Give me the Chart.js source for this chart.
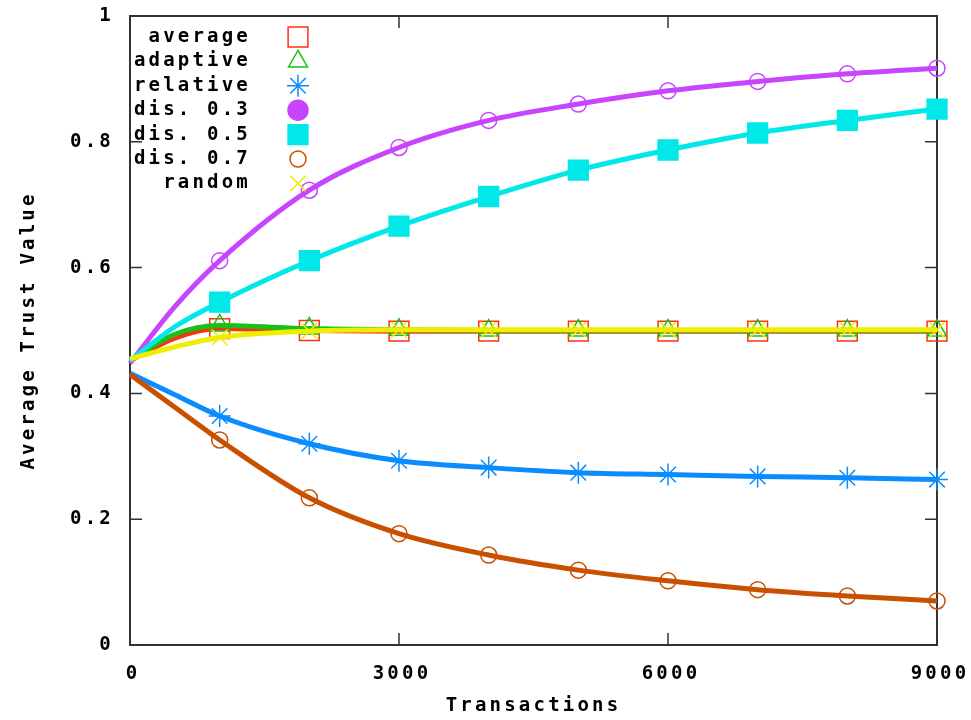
<!DOCTYPE html>
<html>
<head>
<meta charset="utf-8">
<script src="https://cdn.jsdelivr.net/npm/chart.js@4/dist/chart.umd.min.js"></script>
<style>
  html, body { margin: 0; padding: 0; background: #fff; }
  #wrap { width: 971px; height: 720px; position: relative; }
</style>
</head>
<body>
<div id="wrap"><canvas id="grafico"></canvas></div>
<script>
// valores (transacoes x confianca media)
const transactions = [0, 500, 1000, 2000, 3000, 4000, 5000, 6000, 7000, 8000, 9000];
const seriesNames = ['average', 'adaptive', 'relative', 'dis. 0.3', 'dis. 0.5', 'dis. 0.7', 'random'];

const averageVals  = [0.452, 0.488, 0.503, 0.500, 0.499, 0.499, 0.499, 0.499, 0.499, 0.499, 0.499];
const adaptiveVals = [0.452, 0.494, 0.508, 0.503, 0.501, 0.500, 0.500, 0.500, 0.500, 0.500, 0.500];
const relativeVals = [0.432, 0.398, 0.364, 0.320, 0.293, 0.282, 0.274, 0.271, 0.268, 0.266, 0.263];
const dis03Vals    = [0.448, 0.538, 0.611, 0.723, 0.791, 0.834, 0.860, 0.881, 0.896, 0.908, 0.917];
const dis05Vals    = [0.452, 0.506, 0.545, 0.611, 0.666, 0.713, 0.755, 0.787, 0.814, 0.834, 0.852];
const dis07Vals    = [0.430, 0.378, 0.326, 0.234, 0.177, 0.143, 0.119, 0.102, 0.088, 0.078, 0.070];
const randomVals   = [0.455, 0.474, 0.489, 0.499, 0.501, 0.501, 0.501, 0.501, 0.501, 0.501, 0.501];

const allVals = [averageVals, adaptiveVals, relativeVals, dis03Vals, dis05Vals, dis07Vals, randomVals];

const FONT = "'DejaVu Sans Mono', monospace";
const ESPACO = '3.2px';

// estilos dos marcadores (estilo gnuplot)
const estilos = [
  { color: '#ff3010', point: 'rect',     r: 14, fill: false, legendFill: false },
  { color: '#18c018', point: 'triangle', r: 11, fill: false, legendFill: false },
  { color: '#0a8cff', point: 'star',     r: 11, fill: false, legendFill: false },
  { color: '#c844ff', point: 'circle',   r: 8,  fill: false, legendFill: true },
  { color: '#00e8e8', point: 'rect',     r: 14, fill: true,  legendFill: true },
  { color: '#c85000', point: 'circle',   r: 8,  fill: false, legendFill: false },
  { color: '#eeee00', point: 'crossRot', r: 11, fill: false, legendFill: false },
];

const datasets = allVals.map((vals, i) => {
  const st = estilos[i];
  return {
    label: seriesNames[i],
    data: transactions.map((x, k) => ({ x: x, y: vals[k] })),
    borderColor: st.color,
    borderWidth: 5,
    cubicInterpolationMode: 'monotone',
    pointStyle: st.point,
    pointRadius: (c) => {
      const x = transactions[c.dataIndex];
      return x > 0 && x % 1000 === 0 ? st.r : 0;
    },
    pointBorderColor: st.color,
    pointBorderWidth: 1.5,
    pointBackgroundColor: st.fill ? st.color : 'rgba(0,0,0,0)',
    clip: false,
    order: 7 - i,
  };
});

// moldura com ticks para dentro, espelhados
const molduraPlugin = {
  id: 'moldura',
  beforeDraw(chart) {
    chart.ctx.letterSpacing = ESPACO;
  },
  beforeDatasetsDraw(chart) {
    const { ctx, chartArea: a, scales } = chart;
    ctx.save();
    ctx.strokeStyle = '#333';
    ctx.lineWidth = 2;
    ctx.strokeRect(a.left, a.top, a.right - a.left, a.bottom - a.top);
    ctx.lineWidth = 1.5;
    ctx.beginPath();
    const tl = 12;
    scales.x.ticks.forEach((t) => {
      const px = scales.x.getPixelForValue(t.value);
      ctx.moveTo(px, a.bottom); ctx.lineTo(px, a.bottom - tl);
      ctx.moveTo(px, a.top); ctx.lineTo(px, a.top + tl);
    });
    scales.y.ticks.forEach((t) => {
      const py = scales.y.getPixelForValue(t.value);
      ctx.moveTo(a.left, py); ctx.lineTo(a.left + tl, py);
      ctx.moveTo(a.right, py); ctx.lineTo(a.right - tl, py);
    });
    ctx.stroke();
    ctx.restore();
  },
};

// legenda no estilo gnuplot: texto a direita, marcador depois
const legendaPlugin = {
  id: 'legenda',
  afterDatasetsDraw(chart) {
    const ctx = chart.ctx;
    ctx.save();
    ctx.letterSpacing = ESPACO;
    ctx.font = 'bold 19px ' + FONT;
    ctx.textAlign = 'right';
    ctx.textBaseline = 'middle';
    seriesNames.forEach((nome, i) => {
      const y = 37 + i * 24.4;
      ctx.fillStyle = '#000';
      ctx.fillText(nome, 251, y);
      const st = estilos[i];
      ctx.strokeStyle = st.color;
      ctx.fillStyle = st.legendFill ? st.color : 'rgba(0,0,0,0)';
      ctx.lineWidth = 1.5;
      Chart.helpers.drawPoint(ctx, {
        pointStyle: st.point,
        radius: st.point === 'circle' ? (st.legendFill ? 10 : 8) : st.r,
        rotation: 0,
        borderWidth: 1.5,
      }, 298, y);
    });
    ctx.restore();
  },
};

new Chart(document.getElementById('grafico'), {
  type: 'line',
  data: { datasets: datasets },
  options: {
    responsive: true,
    maintainAspectRatio: false,
    animation: false,
    events: [],
    layout: { padding: { top: 16, right: 34, left: 0, bottom: 0 } },
    plugins: {
      legend: { display: false },
      tooltip: { enabled: false },
    },
    scales: {
      x: {
        type: 'linear',
        min: 0,
        max: 9000,
        afterFit: (s) => { s.height = 75; s.paddingLeft = 0; s.paddingRight = 0; },
        grid: { display: false, drawTicks: false },
        border: { display: false },
        ticks: {
          stepSize: 3000,
          padding: 18,
          labelOffset: 3,
          color: '#000',
          maxRotation: 0,
          font: { family: FONT, size: 19, weight: 'bold' },
          callback: (v) => String(v),
        },
        title: {
          display: true,
          text: 'Transactions',
          color: '#000',
          padding: { top: 0, bottom: 3 },
          font: { family: FONT, size: 19, weight: 'bold' },
        },
      },
      y: {
        min: 0,
        max: 1,
        afterFit: (s) => { s.width = 130; s.paddingTop = 0; s.paddingBottom = 0; },
        grid: { display: false, drawTicks: false },
        border: { display: false },
        ticks: {
          stepSize: 0.2,
          padding: 16,
          color: '#000',
          font: { family: FONT, size: 19, weight: 'bold' },
          callback: (v) => String(Math.round(v * 10) / 10),
        },
        title: {
          display: true,
          text: 'Average Trust Value',
          color: '#000',
          padding: { top: 18, bottom: 0 },
          font: { family: FONT, size: 19, weight: 'bold' },
        },
      },
    },
  },
  plugins: [molduraPlugin, legendaPlugin],
});
</script>
</body>
</html>
